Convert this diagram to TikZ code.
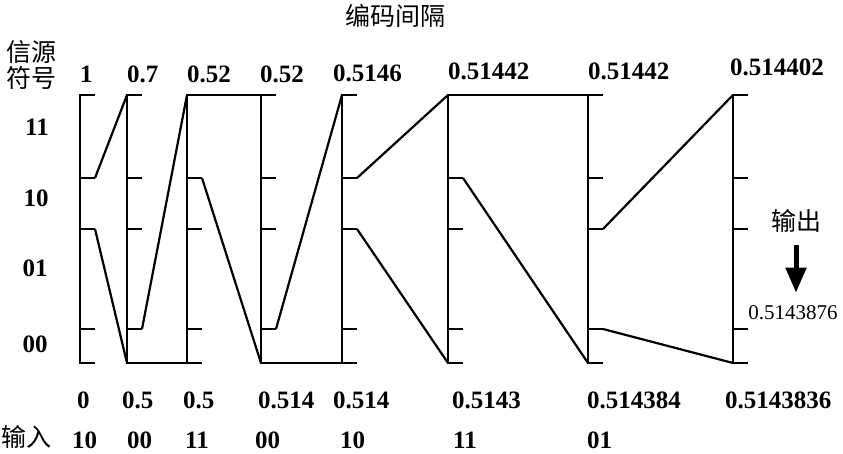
\documentclass[tikz,border=0pt]{standalone}
\usepackage{fontspec}
\setmainfont{Liberation Serif}
\newfontfamily\cjk{Noto Sans CJK SC}
\usetikzlibrary{arrows.meta}
\begin{document}
\begin{tikzpicture}[x=1pt,y=-1pt,
  axisline/.style={line width=2.9pt, line join=miter},
  mapline/.style={line width=2.2pt, line join=round},
  num/.style={font=\fontsize{25}{25}\selectfont\bfseries, anchor=base west, inner sep=0pt},
  cjklab/.style={font=\cjk\fontsize{25}{25}\selectfont, inner sep=0pt},
  sym/.style={font=\fontsize{25}{25}\selectfont\bfseries, inner sep=0pt}]
\useasboundingbox (0,0) rectangle (843,453);
% axes
\foreach \n/\x in {1/80,2/127,3/187,4/261,5/342,6/448,7/588,8/733}{
  \foreach \k/\y in {0/95,1/178,2/229,3/329,4/363}{
    \coordinate (a\n-\k) at (\x,\y);
    \coordinate (a\n-\k e) at (\x+15,\y);
  }
  \draw[axisline] (a\n-0e) -- (a\n-0) -- (a\n-4) -- (a\n-4e);
  \foreach \k in {1,2,3}{ \draw[axisline] (a\n-\k) -- (a\n-\k e); }
}
% horizontal joins
\draw[axisline] (a2-4) -- (a3-4);
\draw[axisline] (a3-0) -- (a4-0);
\draw[axisline] (a4-4) -- (a5-4);
\draw[axisline] (a6-0) -- (a7-0);
% mapping lines
\draw[mapline] (a1-1e) -- (a2-0);
\draw[mapline] (a1-2e) -- (a2-4);
\draw[mapline] (a2-3e) -- (a3-0);
\draw[mapline] (a3-1e) -- (a4-4);
\draw[mapline] (a4-3e) -- (a5-0);
\draw[mapline] (a5-1e) -- (a6-0);
\draw[mapline] (a5-2e) -- (a6-4);
\draw[mapline] (a6-1e) -- (a7-4);
\draw[mapline] (a7-2e) -- (a8-0);
\draw[mapline] (a7-3e) -- (a8-4);
% title and side labels
\node[cjklab] (title) at (395,16) {编码间隔};
\node[cjklab] (src1) at (31,52) {信源};
\node[cjklab] (src2) at (31,78) {符号};
\node[sym] (s11) at (37,127) {11};
\node[sym] (s10) at (36,198) {10};
\node[sym] (s01) at (35,268) {01};
\node[sym] (s00) at (35,344) {00};
% top values
\node[num] (t1) at (80,82) {1};
\node[num] (t2) at (127,82) {0.7};
\node[num] (t3) at (187,82) {0.52};
\node[num] (t4) at (260,82) {0.52};
\node[num] (t5) at (333,81) {0.5146};
\node[num] (t6) at (448,79) {0.51442};
\node[num] (t7) at (588,79) {0.51442};
\node[num] (t8) at (730,75) {0.514402};
% bottom values
\node[num] (b1) at (77,408) {0};
\node[num] (b2) at (122,408) {0.5};
\node[num] (b3) at (183,408) {0.5};
\node[num] (b4) at (258,408) {0.514};
\node[num] (b5) at (333,408) {0.514};
\node[num] (b6) at (452,408) {0.5143};
\node[num] (b7) at (587,408) {0.514384};
\node[num] (b8) at (725,408) {0.5143836};
% input row
\node[cjklab, anchor=west] (inlab) at (1,437) {输入};
\node[num] (i1) at (72,448) {10};
\node[num] (i2) at (127,448) {00};
\node[num] (i3) at (185,448) {11};
\node[num] (i4) at (255,448) {00};
\node[num] (i5) at (340,448) {10};
\node[num] (i6) at (453,448) {11};
\node[num] (i7) at (587,448) {01};
% output
\node[cjklab] (outlab) at (796,221) {输出};
\node[font=\fontsize{21}{21}\selectfont, inner sep=0pt] (outval) at (793,313) {0.5143876};
\draw[line width=5pt, -{Triangle[width=20pt,length=25pt]}, shorten <=12pt, shorten >=13pt] (outlab.south) -- (outlab.south |- outval.north);
\end{tikzpicture}
\end{document}
